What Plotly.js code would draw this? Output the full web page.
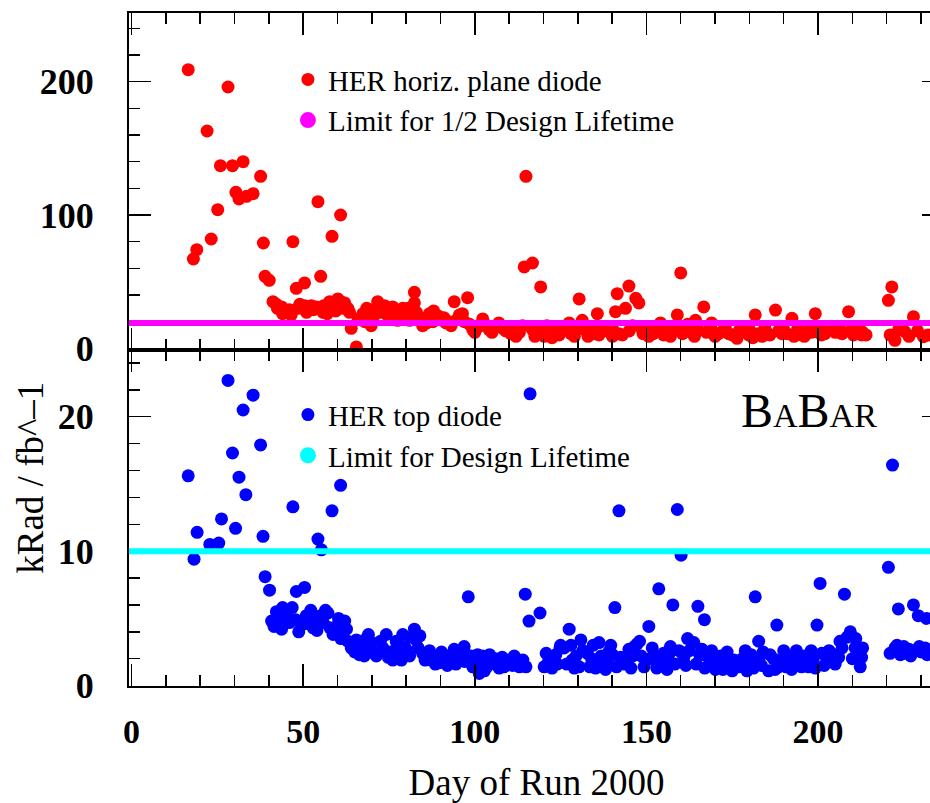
<!DOCTYPE html>
<html>
<head>
<meta charset="utf-8">
<script src="https://cdn.plot.ly/plotly-3.0.1.min.js"></script>
<style>
html, body { margin: 0; padding: 0; overflow: hidden; background: #ffffff; }
#chart { width: 944px; height: 803px; }
</style>
</head>
<body>
<div id="chart"></div>
<script>
// ---- Data ----
var horizDay = [16.5, 18, 19, 22, 23.2, 25.1, 25.9, 28.1, 29.4, 30.4, 31.3, 32.5, 33.5, 35.4, 37.6, 38.4, 38.9, 40.1,
  41.2, 42.2, 43.7, 44.5, 45.6, 46.5, 47, 48, 48.5, 50.4, 50.4, 51.5, 52.4, 53.8, 54.3, 55.1, 55.8, 56.8, 57.7, 58.4,
  59, 60.1, 60.9, 61, 62.1, 63, 64, 65.5, 67.4, 68, 69.3, 69.8, 70.5, 71.7, 72.5, 73.7, 75, 76.1, 77, 78.1, 79, 80,
  81, 82.4, 82.4, 83.9, 84.8, 85.8, 86.8, 87.8, 88.7, 89.5, 90.6, 91.6, 93.1, 94, 95, 96.4, 97, 97.9, 99.4, 101,
  102.3, 104.2, 106.2, 108.1, 109, 110.5, 112, 113.9, 114.4, 114.9, 116.8, 116.8, 118, 119.2, 120.2, 121.7, 123,
  124.6, 126, 127.5, 129, 130.4, 131.3, 132, 133.8, 135, 135.7, 136.2, 138, 139.1, 140.1, 141, 141.5, 142, 143.9,
  144.9, 145, 146.9, 147.8, 148.8, 150, 150.7, 152, 154.1, 155, 156.5, 158, 159, 160, 161.4, 163, 164.3, 165, 166.7,
  168.7, 170, 172, 174, 176.4, 178, 179.8, 181, 181.7, 183.7, 185, 187.6, 189.5, 190, 192.4, 193, 195.3, 197, 199.2,
  199.2, 201, 203, 205, 206.4, 208.9, 210.3, 211, 212.7, 213, 220.5, 221.5, 222.4, 225.3, 227.8, 230.7,
  42.5, 44, 46, 49, 51, 53, 56, 57, 59.5, 61.5, 63.5, 66, 68.5, 71, 74.5, 77.5, 80.5, 83, 86, 88, 91, 92.5, 95.5, 98.5,
  100, 103, 105, 107, 111, 113, 117.5, 119, 121, 122.5, 125, 128, 130, 133, 134.5, 137, 140, 143, 146, 149, 151, 153,
  157, 160.5, 162, 164, 167.5, 169, 171, 173, 175, 177, 180, 182.5, 184.5, 186, 188.5, 191, 194, 196, 198, 200, 202,
  204, 207, 209.5, 212, 214, 221, 223.5, 226.5, 229, 232];
var horizDose = [209, 67, 74, 163, 82, 104, 137, 196, 137, 117, 112, 140, 114, 116, 129, 79, 54, 51,
  35, 33, 31, 28, 27, 25, 80, 45, 30, 49, 32, 30, 32, 31, 110, 54, 27, 29, 35, 84,
  32, 37, 100, 35, 34, 30, 15, 1, 26, 20, 29, 17, 24, 35, 27, 32, 28, 31, 24, 28, 30, 26,
  21, 42, 34, 22, 17, 23, 26, 20, 25, 24, 21, 19, 17, 35, 22, 26, 20, 38, 14, 16,
  22, 14, 16, 15, 13, 11, 9, 17, 61, 129, 64, 14, 11, 46, 9, 12.5, 15,
  10, 14, 19, 9, 37, 21, 14, 12.5, 11, 26, 10, 15, 12.5, 9, 27.5, 41, 11, 30,
  46.7, 13, 37.5, 34, 14, 15, 9, 11, 19, 10, 12.5, 15, 25, 56.5, 16, 12, 21, 14, 31,
  16, 9, 12.5, 11, 7.5, 13, 10, 8, 25, 9, 12, 28.7, 11, 14, 22.5, 9, 10, 13, 26,
  12.5, 10, 16, 12, 14, 27.5, 10, 14, 10, 12, 36, 46, 6, 12.5, 23.7, 8.7,
  30, 26, 29, 33, 27, 29, 32, 26, 28, 30, 27, 22, 30, 27, 25, 21, 30, 27, 19, 28, 23, 20, 25, 18,
  12, 18, 12, 19, 14, 12, 9, 15, 17, 8, 13, 11, 16, 9, 15, 13, 16, 10, 17, 11, 13, 16,
  9, 11, 18, 9, 12, 19, 11, 15, 10, 13, 14, 11, 15, 10, 13, 11, 14, 9, 12, 16, 11,
  14, 11, 13, 15, 10, 10, 14, 9, 13, 10];

var topDay = [16.5, 18.2, 19.1, 22.8, 25.4, 26.2, 28.1, 29.4, 30.3, 31.3, 32.5, 33.3, 35.4, 37.6, 38.3, 38.9, 40.2,
  40.8, 42.2, 43.7, 44, 45.1, 46.1, 47, 47.8, 48, 49.5, 50.4, 50.9, 52.9, 53.5, 54.3, 55.3, 55.8, 56.5, 57.2, 58.4,
  58.7, 59.7, 60.9, 61, 62.1, 62.6, 64, 65, 66.4, 67, 68.4, 69.5, 70, 71.3, 72, 73.2, 74.2, 75, 76.1, 77.1, 78, 79,
  80, 81, 82.4, 82.9, 83.5, 84.8, 86, 87.3, 88.5, 89.7, 91, 92.6, 93.6, 94.5, 95.5, 96.9, 97.5, 98.1, 99.4, 100.3,
  101.3, 102.3, 103.5, 105.2, 106, 107.1, 108.5, 110, 111, 112, 113.3, 114.7, 114.9, 115.8, 116.1, 119, 120.2,
  121.5, 123.6, 125, 126, 127.5, 128.4, 129.5, 130.4, 130.9, 132.8, 134, 135.2, 136.2, 137, 138.1, 139, 140.1,
  140.8, 142, 142.5, 144.9, 146, 147.3, 148, 149.3, 150.7, 151.7, 152.6, 153.6, 154.1, 155.6, 156.5, 157, 157.7,
  159, 159.5, 160.1, 160.9, 162.5, 163.8, 165, 166.2, 166.9, 167.5, 168.7, 169.5, 170.1, 171.6, 173, 174, 175.5,
  176.9, 178, 178.8, 180, 181.7, 182.7, 182.7, 184, 185.6, 187, 188, 188.5, 190, 191.4, 193, 194.3, 196, 197.2,
  198.5, 199.7, 200.6, 201.1, 202.5, 204, 205, 206.4, 207.7, 208.5, 209.4, 210.8, 211.5, 212.3, 212.7, 220.5,
  221.7, 222.4, 223.4, 224, 225.8, 226.5, 227.8, 228.3, 229.2, 230, 231.2, 231.6,
  41.5, 43, 44.5, 46.8, 48.7, 51.5, 52.2, 54, 55, 57.8, 60.3, 61.5, 63, 65.5, 67.8, 69, 70.7, 72.5, 74.8, 76.6,
  78.6, 79.5, 81.5, 84, 85.5, 86.8, 88, 90.3, 92, 94, 96, 97, 99, 100.8, 102.8, 104.3, 106.5, 108, 109.3, 111.5,
  113, 114, 120.8, 122.5, 124, 124.8, 126.8, 128, 129, 131.5, 133.5, 134.5, 136.8, 138.6, 139.6, 141.3, 143.5,
  145.5, 146.5, 148.5, 150, 151, 153, 155, 156, 158.3, 161.5, 162, 164.5, 165.5, 167, 169, 170.8, 172.3, 173.5,
  175, 177.5, 179.3, 180.5, 181.2, 183.5, 186, 187.5, 189.3, 190.7, 192.3, 193.7, 195.2, 196.8, 198, 199.2,
  201.8, 203.2, 204.8, 206, 207, 210, 211, 213, 221, 223, 225, 227, 229.5, 231.8];
var topDose = [15.6, 9.4, 11.4, 10.5, 10.6, 12.4, 22.7, 17.3, 11.7, 15.5, 20.5, 14.2, 21.6, 17.9, 11.1, 8.1, 7.1,
  4.8, 5.5, 4.2, 5.8, 5.4, 4.7, 13.3, 4.9, 7, 4.5, 7.3, 5.2, 4.3, 5, 10.9, 10.1, 4.7, 5.6, 5.4, 13,
  3.8, 4.4, 14.9, 3.5, 4.8, 4.2, 2.8, 2.5, 2.3, 3, 3.5, 2.6, 3.2, 2.2, 2.4, 2.8, 3.8, 2.5, 1.9, 3.3, 2.3, 3.8,
  2.7, 2.2, 4.2, 3.4, 2.8, 2.4, 2, 1.9, 1.6, 1.7, 1.8, 2.2, 2.3, 1.6, 1.9, 2.9, 2.3, 6.6, 1.4, 1.6,
  0.9, 2.2, 1.4, 1.8, 2, 1.3, 1.4, 1.9, 1.5, 1.6, 1.8, 6.8, 1.4, 4.8, 21.7, 5.4, 1.4,
  1.8, 2.3, 3, 2.8, 4.2, 1.9, 2.2, 1.4, 3.4, 2.4, 2, 1.3, 3.2, 1.8, 1.2, 2.5, 2.3,
  5.8, 13, 2.1, 2.7, 2.2, 3.1, 3.3, 1.4, 4.4, 2.8, 2.2, 7.2, 1.9, 1.7, 2.3, 2.9, 6,
  13.1, 2.6, 9.7, 2.1, 2.6, 3.2, 5.9, 2.7, 4.9, 2.2, 1.9, 1.5, 1.2, 2.2, 1.8, 1.4, 1.9,
  1.4, 2, 2.6, 1.5, 6.6, 3.3, 1.9, 2.5, 1.1, 2, 4.5, 1.4, 2.6, 2.2, 1.5, 1.8, 2.2, 1.4,
  1.9, 4.5, 7.6, 2.4, 2.1, 1.9, 1.6, 3.3, 6.8, 3.6, 4, 2.8, 2.3, 1.4, 2.1, 8.8,
  16.4, 2.8, 5.7, 2.3, 2.4, 2.7, 6, 2.6, 5.2, 2.5, 2.8, 5,
  4.4, 5, 4.6, 5.8, 4, 4.6, 5.6, 4.1, 5.2, 4.3, 5, 3.9, 3.3, 3.4, 2.2, 3.8, 2.4, 3.3, 2.1, 2.6,
  1.9, 2.9, 3.6, 3.7, 1.9, 2.6, 2.2, 2.5, 1.5, 2.7, 2.3, 1.8, 2.2, 2.3, 1.1, 2.3, 1.5, 2.1, 1.7, 2.2,
  1.4, 1.9, 2.4, 1.3, 1.6, 2.8, 1.6, 3, 1.3, 2.6, 1.4, 3, 2.2, 1.6, 3, 1.4, 1.6,
  1.3, 2.9, 2.2, 1.9, 2, 1.3, 2.4, 1.2, 1.6, 1.5, 3.5, 1.6, 2.3, 1.3, 2.6, 1.7, 1.2, 2.5,
  1.1, 1.9, 1.1, 2.3, 1.3, 1.5, 2.3, 1.2, 1.9, 1.4, 1.2, 2.6, 1.4, 1.7, 2.6, 1.3,
  1.5, 2.6, 2.3, 2.1, 2.8, 2, 3.5, 2.8, 2.4, 3, 2.9, 2.2, 2.9, 2.3];

var limitHalfDesign = 19;   // top panel limit line
var limitDesign = 10;       // bottom panel limit line

var seriesNames = ['HER horiz. plane diode', 'Limit for 1/2 Design Lifetime', 'HER top diode', 'Limit for Design Lifetime'];
var xTickVals = [0, 50, 100, 150, 200];
var xTickText = ['0', '50', '100', '150', '200'];
var yTopTickVals = [0, 100, 200];
var yBotTickVals = [0, 10, 20];
var xTitle = 'Day of Run 2000';
var yTitle = 'kRad / fb^\u20131';

// ---- Styles ----
var SERIF = 'Liberation Serif, Times New Roman, serif';
var RED = '#ff0000', BLUE = '#0000ff', MAGENTA = '#ff00ff', CYAN = '#00ffff';

var traces = [
  { type: 'scatter', mode: 'markers', x: horizDay, y: horizDose, xaxis: 'x', yaxis: 'y',
    name: seriesNames[0], legend: 'legend', legendgroup: 'a',
    marker: { color: RED, size: 13, line: { width: 0 } } },
  { type: 'scatter', mode: 'markers', x: [null], y: [null], xaxis: 'x', yaxis: 'y',
    name: seriesNames[1], legend: 'legend', legendgroup: 'b',
    marker: { color: MAGENTA, size: 16, line: { width: 0 } } },
  { type: 'scatter', mode: 'markers', x: topDay, y: topDose, xaxis: 'x2', yaxis: 'y2',
    name: seriesNames[2], legend: 'legend2', legendgroup: 'c',
    marker: { color: BLUE, size: 13, line: { width: 0 } } },
  { type: 'scatter', mode: 'markers', x: [null], y: [null], xaxis: 'x2', yaxis: 'y2',
    name: seriesNames[3], legend: 'legend2', legendgroup: 'd',
    marker: { color: CYAN, size: 16, line: { width: 0 } } }
];

function xAxis(labels, anchor) {
  return {
    anchor: anchor, domain: [0, 1], range: [-0.75, 236.7],
    tickmode: 'array', tickvals: xTickVals, ticktext: xTickText,
    ticks: 'inside', ticklen: 22, tickwidth: 1.5, tickcolor: '#000',
    minor: { dtick: 10, tick0: 0, ticks: 'inside', ticklen: 11, tickwidth: 1.5, tickcolor: '#000', showgrid: false },
    showline: true, linewidth: 2, linecolor: '#000', mirror: 'allticks',
    showgrid: false, zeroline: false, showticklabels: labels,
    tickfont: { family: SERIF, size: 34, color: '#000', weight: 'bold' },
    ticklabelstandoff: 14
  };
}
function yAxis(domain, range, vals, minorStep, anchor) {
  return {
    anchor: anchor, domain: domain, range: range,
    tickmode: 'array', tickvals: vals,
    ticks: 'inside', ticklen: 22, tickwidth: 1.5, tickcolor: '#000',
    minor: { dtick: minorStep, tick0: 0, ticks: 'inside', ticklen: 11, tickwidth: 1.5, tickcolor: '#000', showgrid: false },
    showline: true, linewidth: 2, linecolor: '#000', mirror: 'allticks',
    showgrid: false, zeroline: false,
    tickfont: { family: SERIF, size: 36, color: '#000', weight: 'bold' },
    ticklabelstandoff: 26
  };
}

var xa2 = xAxis(true, 'y2');
xa2.title = { text: xTitle, font: { family: SERIF, size: 37, color: '#000' }, standoff: 30 };

var layout = {
  width: 944, height: 803,
  margin: { l: 129, r: 0, t: 13, b: 117 },
  paper_bgcolor: '#ffffff', plot_bgcolor: '#ffffff',
  showlegend: true,
  xaxis: xAxis(false, 'y'),
  xaxis2: xa2,
  yaxis: yAxis([0.5, 1], [-0.9, 251.5], yTopTickVals, 20, 'x'),
  yaxis2: yAxis([0, 0.5], [-0.03, 25.0], yBotTickVals, 2, 'x2'),
  legend: { x: 0.195, y: 0.939, xanchor: 'left', yanchor: 'top', bgcolor: 'rgba(0,0,0,0)',
    font: { family: SERIF, size: 29, color: '#000' }, tracegroupgap: 0, itemclick: false },
  legend2: { x: 0.195, y: 0.441, xanchor: 'left', yanchor: 'top', bgcolor: 'rgba(0,0,0,0)',
    font: { family: SERIF, size: 29, color: '#000' }, tracegroupgap: 0, itemclick: false },
  shapes: [
    { type: 'line', xref: 'x domain', yref: 'y', x0: 0, x1: 1, y0: limitHalfDesign, y1: limitHalfDesign,
      line: { color: MAGENTA, width: 6 }, layer: 'above' },
    { type: 'line', xref: 'x2 domain', yref: 'y2', x0: 0, x1: 1, y0: limitDesign, y1: limitDesign,
      line: { color: CYAN, width: 6 }, layer: 'above' }
  ],
  annotations: [
    { text: yTitle, xref: 'paper', yref: 'paper', x: -0.121, y: 0.31, textangle: -90,
      showarrow: false, xanchor: 'center', yanchor: 'middle',
      font: { family: SERIF, size: 37, color: '#000' } },
    { text: 'B<span style="font-size:34px">A</span>B<span style="font-size:34px">AR</span>',
      xref: 'paper', yref: 'paper', x: 0.834, y: 0.41, showarrow: false,
      xanchor: 'center', yanchor: 'middle',
      font: { family: SERIF, size: 48, color: '#000' } }
  ]
};

Plotly.newPlot('chart', traces, layout, { staticPlot: true, displayModeBar: false });
</script>
</body>
</html>
